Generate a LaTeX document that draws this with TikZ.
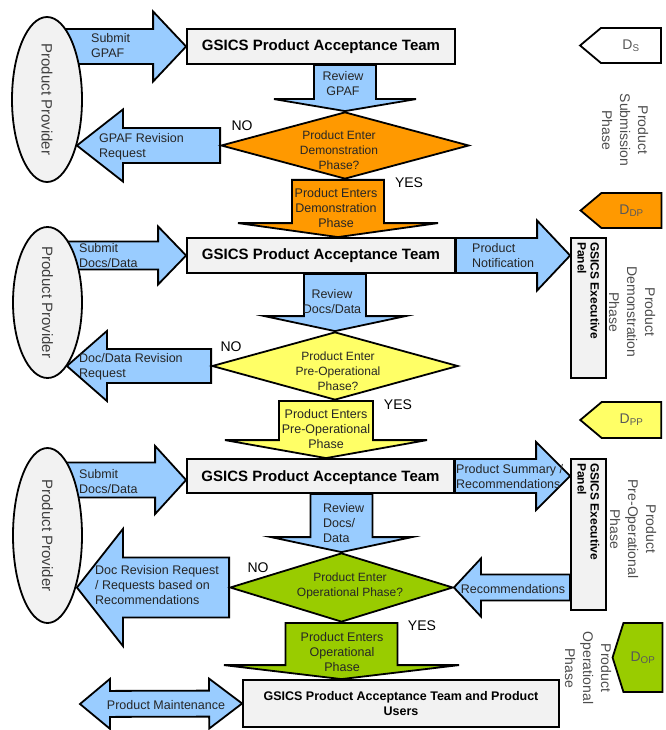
\documentclass[tikz,border=0pt]{standalone}
\usepackage{fontspec}
\setmainfont{Liberation Sans}
\usetikzlibrary{calc, shapes.geometric, shapes.symbols, backgrounds}

\definecolor{flowblue}{HTML}{99CCFF}
\definecolor{demoorange}{HTML}{FF9900}
\definecolor{preyellow}{HTML}{FFFF66}
\definecolor{opgreen}{HTML}{99CC00}
\definecolor{boxgray}{HTML}{F2F2F2}
\definecolor{txtgray}{HTML}{262626}

\newcommand{\blockarrow}[6][]{%
  \path (#2) coordinate (ba-tail) (#3) coordinate (ba-tip);
  \path ($(ba-tip)!#6!(ba-tail)$) coordinate (ba-neck);
  \draw[#1] (ba-tip)
    -- ($(ba-neck)!#5!90:(ba-tip)$) -- ($(ba-neck)!#4!90:(ba-tip)$)
    -- ($(ba-tail)!#4!90:(ba-neck)$) -- ($(ba-tail)!#4!-90:(ba-neck)$)
    -- ($(ba-neck)!#4!-90:(ba-tip)$) -- ($(ba-neck)!#5!-90:(ba-tip)$)
    -- cycle;}
\newcommand{\dblarrow}[7][]{%
  \path (#2) coordinate (da-a) (#3) coordinate (da-b);
  \path ($(da-a)!#6!(da-b)$) coordinate (da-na) ($(da-b)!#7!(da-a)$) coordinate (da-nb);
  \draw[#1] (da-a)
    -- ($(da-na)!#5!90:(da-b)$) -- ($(da-na)!#4!90:(da-b)$)
    -- ($(da-nb)!#4!-90:(da-a)$) -- ($(da-nb)!#5!-90:(da-a)$) -- (da-b)
    -- ($(da-nb)!#5!90:(da-a)$) -- ($(da-nb)!#4!90:(da-a)$)
    -- ($(da-na)!#4!-90:(da-b)$) -- ($(da-na)!#5!-90:(da-b)$) -- cycle;}

\begin{document}
\begin{tikzpicture}[x=1pt, y=-1pt,
    every node/.style={font=\fontsize{12.5}{15}\selectfont, text=txtgray},
    teambox/.style={draw, line width=1.8pt, fill=boxgray, inner sep=0pt,
                    font=\bfseries\fontsize{15}{18}\selectfont, text=black},
    provider/.style={draw, ellipse, line width=1.8pt, fill=boxgray, inner sep=0pt},
    provtxt/.style={rotate=-90, inner sep=0pt, font=\fontsize{15}{18}\selectfont, text=black!75},
    decision/.style={draw, diamond, line width=1.8pt, inner sep=0pt},
    panel/.style={draw, line width=1.8pt, fill=boxgray, inner sep=0pt,
                  minimum width=35pt},
    paneltxt/.style={rotate=-90, anchor=west, align=left, inner sep=0pt,
                     font=\bfseries\fontsize{12}{13}\selectfont, text=black},
    marker/.style={draw, signal, signal to=west, line width=1.8pt, inner sep=0pt,
                   minimum width=81pt, font=\fontsize{14}{16}\selectfont, text=black!65},
    phase/.style={rotate=-90, align=center, inner sep=0pt,
                  font=\fontsize{14}{18}\selectfont, text=black!70},
    answer/.style={inner sep=0pt, font=\fontsize{14}{16}\selectfont, text=black},
    atxt/.style={anchor=west, align=left, inner sep=0pt},
    ctxt/.style={align=center, inner sep=0pt},
    dtxt/.style={align=center, inner sep=0pt, font=\fontsize{12}{15}\selectfont},
    flow/.style={draw, line width=1.8pt, fill=flowblue}
  ]
  \useasboundingbox (0,0) rectangle (665,730);

  \node[provider, minimum width=70pt, minimum height=165pt] (prov1) at (47,99.5) {};
  \node[teambox, minimum width=268pt, minimum height=35pt] (team1) at (321,46.5) {GSICS Product Acceptance Team};
  \node[decision, fill=demoorange, minimum width=248pt, minimum height=67pt] (dia1) at (345,145.5) {};

  \node[provider, minimum width=69pt, minimum height=151pt] (prov2) at (47.5,302.5) {};
  \node[teambox, minimum width=268pt, minimum height=35pt] (team2) at (321,255.5) {GSICS Product Acceptance Team};
  \node[panel, minimum height=140pt] (panel2) at (588.5,308) {};
  \node[decision, fill=preyellow, minimum width=246pt, minimum height=68pt] (dia2) at (335,366) {};

  \node[provider, minimum width=69pt, minimum height=175pt] (prov3) at (47.5,535.5) {};
  \node[teambox, minimum width=267pt, minimum height=34pt, text depth=-3pt] (team3) at (320.5,476) {GSICS Product Acceptance Team};
  \node[panel, minimum height=151pt] (panel3) at (588.5,534.5) {};
  \node[decision, fill=opgreen, minimum width=223pt, minimum height=69pt] (dia3) at (341.5,587.5) {};
  \node[teambox, minimum width=316pt, minimum height=47pt, align=center,
        font=\bfseries\fontsize{12.5}{15}\selectfont] (team4) at (401,703.5)
        {GSICS Product Acceptance Team and Product\\Users};
  \coordinate (maint-end) at (80,704);

  \begin{scope}[on background layer]
    \blockarrow[flow]{$(prov1.center |- team1.west)$}{team1.west}{17.5pt}{35pt}{33pt}
    \blockarrow[flow]{dia1.north |- team1.south}{dia1.north}{31pt}{71pt}{12pt}
    \blockarrow[flow]{dia1.west}{$(dia1.west -| prov1.east)+(-6,0)$}{17.5pt}{36pt}{46pt}
    \blockarrow[flow, fill=demoorange]{$(dia1.south)+(-7,0)$}{$(dia1.south |- team2.north)+(-7,0)$}{46pt}{100pt}{14pt}

    \blockarrow[flow]{$(prov2.center |- team2.west)$}{team2.west}{14pt}{29pt}{28pt}
    \blockarrow[flow]{team2.east}{panel2.west |- team2.east}{17.5pt}{35pt}{33pt}
    \blockarrow[flow]{dia2.north |- team2.south}{dia2.north}{31pt}{70.5pt}{15pt}
    \blockarrow[flow]{dia2.west}{$(dia2.west -| prov2.east)+(-16,0)$}{17pt}{35pt}{40pt}
    \blockarrow[flow, fill=preyellow]{$(dia2.south)+(-9,0)$}{$(dia2.south |- team3.north)+(-9,0)$}{47pt}{101pt}{18pt}

    \blockarrow[flow]{$(prov3.center |- team3.west)+(0,4)$}{$(team3.west)+(0,4)$}{17.5pt}{34pt}{31pt}
    \blockarrow[flow]{team3.east}{panel3.west |- team3.east}{17pt}{34pt}{34pt}
    \blockarrow[flow]{dia3.north |- team3.south}{dia3.north}{31pt}{70.5pt}{15pt}
    \blockarrow[flow]{dia3.west}{$(dia3.west -| prov3.east)+(-6,0)$}{30pt}{58.5pt}{46pt}
    \blockarrow[flow]{panel3.west |- dia3.east}{dia3.east}{13pt}{29pt}{27pt}
    \blockarrow[flow, fill=opgreen]{dia3.south}{dia3.south |- team4.north}{56pt}{117.5pt}{14pt}
    \dblarrow[flow]{maint-end}{team4.west}{13pt}{25pt}{30pt}{33pt}
  \end{scope}

  \node[provtxt] (prov1-txt) at (prov1) {Product Provider};
  \node[atxt] (submit1-txt) at (91,46) {Submit\\GPAF};
  \node[ctxt] (review1-txt) at (343,84) {Review\\GPAF};
  \node[dtxt] (dia1-txt) at (339,150) {Product Enter\\Demonstration\\Phase?};
  \node[atxt] (revise1-txt) at (99,146.5) {GPAF Revision\\Request};
  \node[answer] (no1) at (242,126) {NO};
  \node[answer] (yes1) at (409,183) {YES};
  \node[ctxt] (yes1-txt) at (336,208.5) {Product Enters\\Demonstration\\Phase};

  \node[provtxt] (prov2-txt) at (prov2) {Product Provider};
  \node[atxt] (submit2-txt) at (79,256) {Submit\\Docs/Data};
  \node[atxt] (notify2-txt) at (472,256) {Product\\Notification};
  \node[ctxt] (review2-txt) at (332,302) {Review\\Docs/Data};
  \node[dtxt] (dia2-txt) at (338,371) {Product Enter\\Pre-Operational\\Phase?};
  \node[atxt] (revise2-txt) at (79,367) {Doc/Data Revision\\Request};
  \node[answer] (no2) at (231,347) {NO};
  \node[answer] (yes2) at (398,405) {YES};
  \node[ctxt] (yes2-txt) at (326,429) {Product Enters\\Pre-Operational\\Phase};
  \node[paneltxt] (panel2-txt) at ($(panel2.north)+(0,5)$) {GSICS Executive\\Panel};

  \node[provtxt] (prov3-txt) at (prov3) {Product Provider};
  \node[atxt] (submit3-txt) at (79,482) {Submit\\Docs/Data};
  \node[atxt] (summary3-txt) at (456,477) {Product Summary /\\Recommendations};
  \node[atxt] (review3-txt) at (323,523) {Review\\Docs/\\Data};
  \node[dtxt] (dia3-txt) at (350,586) {Product Enter\\Operational Phase?};
  \node[atxt] (revise3-txt) at (95,585) {Doc Revision Request\\/ Requests based on\\Recommendations};
  \node[answer] (no3) at (258,568) {NO};
  \node[answer] (yes3) at (422,626) {YES};
  \node[ctxt] (recom3-txt) at (513,589) {Recommendations};
  \node[ctxt] (yes3-txt) at (342,652) {Product Enters\\Operational\\Phase};
  \node[ctxt] (maint-txt) at (166,705) {Product Maintenance};
  \node[paneltxt] (panel3-txt) at ($(panel3.north)+(0,5)$) {GSICS Executive\\Panel};

  \node[marker, fill=white, minimum height=35pt, signal pointer angle=80] (ds) at (631,45.5) {D\textsubscript{S}};
  \node[marker, fill=demoorange, minimum height=35pt, signal pointer angle=80] (ddp) at (631.5,210.5) {D\textsubscript{DP}};
  \node[marker, fill=preyellow, minimum height=36pt, signal pointer angle=80] (dpp) at (631.5,420) {D\textsubscript{PP}};
  \node[marker, fill=opgreen, minimum width=50pt, minimum height=69pt, signal pointer angle=145] (dop) at (643,657.5) {D\textsubscript{OP}};
  \node[phase] (ph1) at (625,130) {Product\\Submission\\Phase};
  \node[phase] (ph2) at (632,312) {Product\\Demonstration\\Phase};
  \node[phase] (ph3) at (633,529) {Product\\Pre-Operational\\Phase};
  \node[phase] (ph4) at (588,668) {Product\\Operational\\Phase};
\end{tikzpicture}
\end{document}
